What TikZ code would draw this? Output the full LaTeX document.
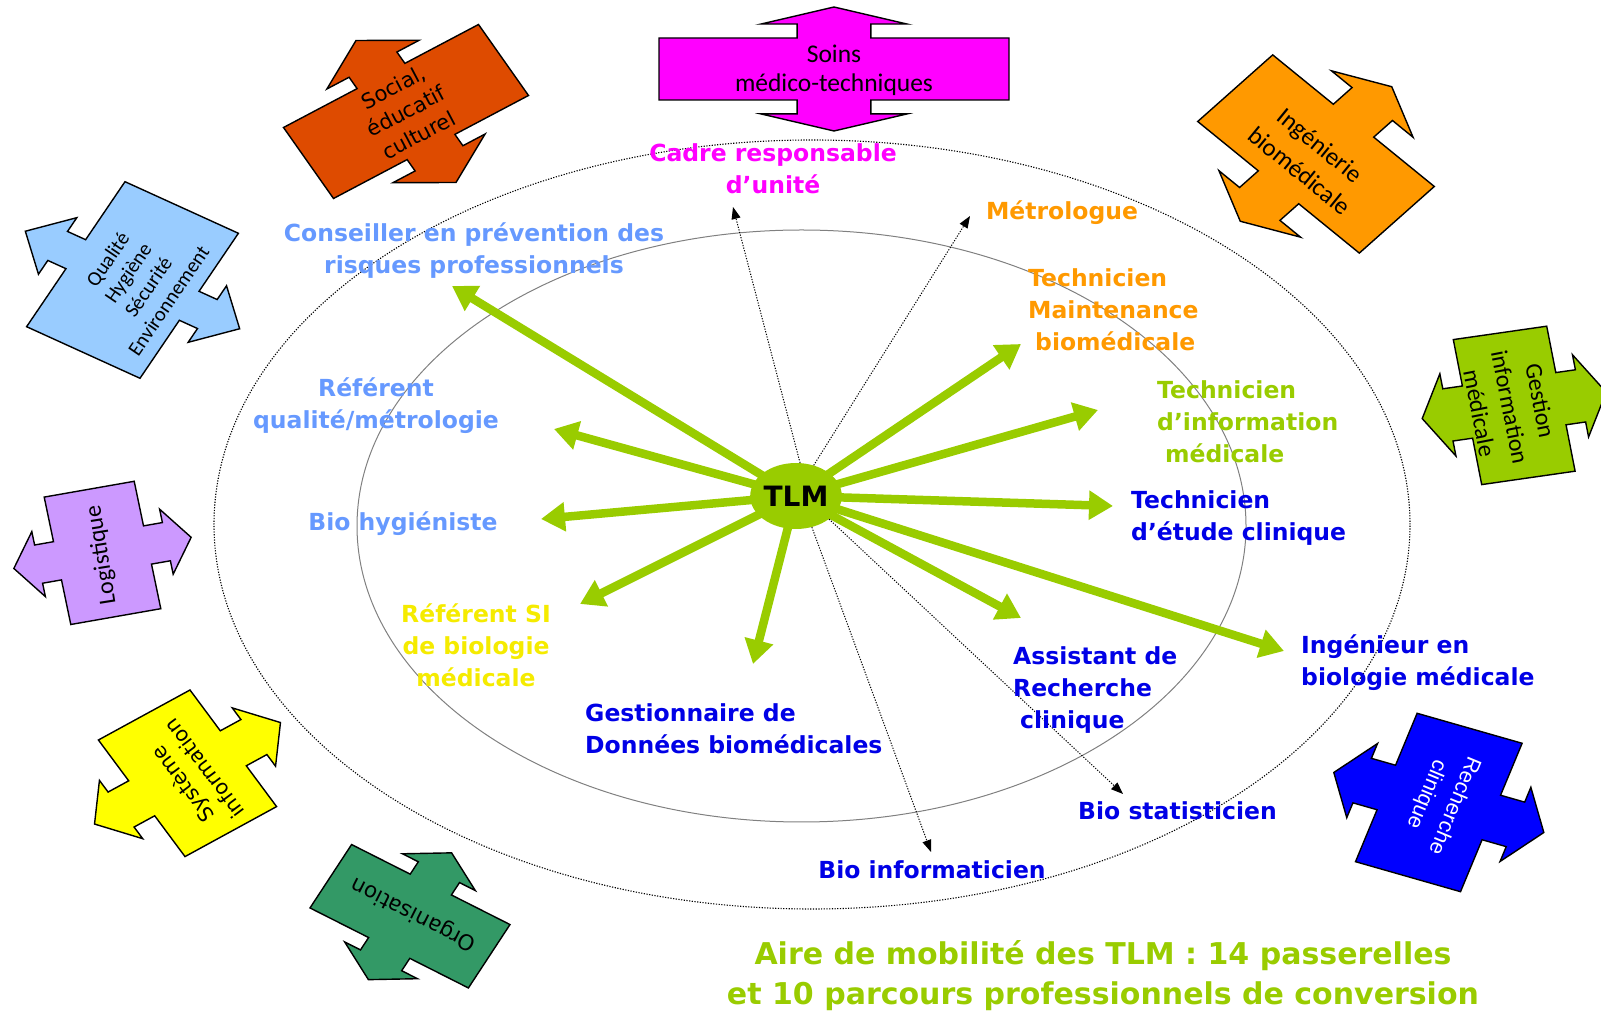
\documentclass[tikz,border=0pt]{standalone}
\usepackage{fontspec}
\setmainfont{DejaVu Sans}
\newfontfamily\calibri{Carlito}
\newfontfamily\arial{Liberation Sans}
\usepackage{tikz}
\usetikzlibrary{arrows.meta, shapes.geometric, positioning}

\definecolor{vertTLM}{RGB}{153,204,0}
\definecolor{bleuclair}{RGB}{102,153,255}
\definecolor{orangeM}{RGB}{255,153,0}
\definecolor{magentaM}{RGB}{255,0,255}
\definecolor{jauneM}{RGB}{245,235,0}
\definecolor{bleuM}{RGB}{0,0,230}
\definecolor{rougeS}{RGB}{222,75,0}
\definecolor{bleuQ}{RGB}{153,204,255}
\definecolor{violetL}{RGB}{204,153,255}
\definecolor{jauneS}{RGB}{255,255,0}
\definecolor{vertO}{RGB}{51,153,102}
\definecolor{bleuR}{RGB}{0,0,255}

\tikzset{
	metier/.style={
		font=\bfseries\fontsize{23.5}{32}\selectfont,
		inner sep=0pt,
		align=center
	},
	passerelle/.style={
		draw=vertTLM,
		line width=8.5pt,
		-{Triangle[length=24pt,width=28pt]}
	},
	parcours/.style={
		draw=black,
		line width=1pt,
		dash pattern=on 1.2pt off 1.5pt,
		-{Triangle[length=12pt,width=9pt]}
	},
	boite/.style={
		draw=black,
		line width=1.4pt,
		line join=miter
	},
	boitetexte/.style={
		inner sep=0pt,
		align=center
	},
	tlm/.style={
		shape=ellipse,
		fill=vertTLM,
		minimum width=90pt,
		minimum height=66pt,
		inner sep=0pt,
		font=\bfseries\fontsize{28}{30}\selectfont
	}
}

% centre, demi-axe U, demi-axe V, couleur, tige, fin tige, tete, pointe
\newcommand{\boite}[8]{%
	\begin{scope}[shift={#1}, x={#2}, y={#3}]
		\draw[boite, fill=#4] (-1,1) -- (-#5,1) -- (-#5,#6) -- (-#7,#6) -- (0,#8) -- (#7,#6) -- (#5,#6) -- (#5,1) -- (1,1)
			-- (1,-1) -- (#5,-1) -- (#5,-#6) -- (#7,-#6) -- (0,-#8) -- (-#7,-#6) -- (-#5,-#6) -- (-#5,-1) -- (-1,-1) -- cycle;
	\end{scope}}

\begin{document}
\begin{tikzpicture}[x=1pt, y=1pt]
	\useasboundingbox (0,0) rectangle (1601,1012);
	
	% aires
	\draw[black, line width=1.1pt, dash pattern=on 1.2pt off 1.5pt] (812,487.5) ellipse [x radius=598, y radius=384.5];
	\draw[gray, line width=1pt] (801.5,486) ellipse [x radius=444.5, y radius=296];
	
	% filieres
	\boite{(834,943)}{(175pt,0pt)}{(0pt,31pt)}{magentaM}{0.211}{1.45}{0.417}{2.0}
	\node[boitetexte, font=\calibri\fontsize{25.5}{29}\selectfont] (soins) at (834,942) {Soins\\médico-techniques};
	
	\boite{(406,900.5)}{(97.5pt,51.5pt)}{(25pt,-35.5pt)}{rougeS}{0.245}{1.32}{0.473}{2.0}
	\node[boitetexte, rotate=27.8, font=\fontsize{21}{27}\selectfont] (social) at (406,901) {Social,\\éducatif\\culturel};
	
	\boite{(1316,858)}{(80.8pt,-65.8pt)}{(37.5pt,33.3pt)}{orangeM}{0.25}{1.5}{0.505}{2.02}
	\node[boitetexte, rotate=-39.2, font=\calibri\fontsize{25}{33}\selectfont] (ingenierie) at (1310,854) {Ingénierie\\biomédicale};
	
	\boite{(132.5,732)}{(49.2pt,72.5pt)}{(56.7pt,-25.8pt)}{bleuQ}{0.2}{1.32}{0.39}{1.89}
	\node[boitetexte, rotate=55.8, font=\calibri\fontsize{20.5}{24.5}\selectfont] (qualite) at (138,732) {Qualité\\Hygiène\\Sécurité\\Environnement};
	
	\boite{(1514.2,606.6)}{(14.2pt,-72.5pt)}{(46.7pt,6.7pt)}{vertTLM}{0.36}{1.42}{0.567}{1.97}
	\node[boitetexte, rotate=-78.9, font=\calibri\fontsize{24}{31}\selectfont] (gestion) at (1510,605) {Gestion\\information\\médicale};
	
	\boite{(102.5,459.1)}{(-13.3pt,63.7pt)}{(45pt,7.9pt)}{violetL}{0.3}{1.42}{0.51}{1.97}
	\node[boitetexte, rotate=99, font=\calibri\fontsize{24}{28}\selectfont] (logistique) at (101.7,457) {Logistique};
	
	\boite{(187.5,238.7)}{(-43.3pt,58.3pt)}{(45.8pt,25pt)}{jauneS}{0.3}{1.45}{0.5}{2.03}
	\node[boitetexte, rotate=126.6, font=\fontsize{20.5}{27}\selectfont] (systeme) at (193,235) {Système\\information};
	
	\boite{(410,95.75)}{(-79.2pt,40pt)}{(20.8pt,31.7pt)}{vertO}{0.26}{1.39}{0.46}{2.0}
	\node[boitetexte, rotate=153.2, font=\fontsize{21.5}{26}\selectfont] (organisation) at (414,98) {Organisation};
	
	\boite{(1438.8,209.5)}{(-30.8pt,-74.2pt)}{(52.5pt,-15pt)}{bleuR}{0.3}{1.46}{0.5}{2.0}
	\node[boitetexte, rotate=-112.5, text=white, font=\arial\fontsize{21.5}{30}\selectfont] (recherche) at (1440,212) {Recherche\\clinique};
	
	% passerelles
	\coordinate (centre) at (796,516);
	\coordinate (t-conseiller) at (452,726);
	\coordinate (t-refqual) at (554,583);
	\coordinate (t-biohyg) at (541,493);
	\coordinate (t-refsi) at (580,408);
	\coordinate (t-gestionnaire) at (753,348);
	\coordinate (t-assistant) at (1021,394);
	\coordinate (t-ingenieur) at (1284,361);
	\coordinate (t-techclin) at (1113,506);
	\coordinate (t-techinfo) at (1098,602);
	\coordinate (t-techmaint) at (1021,668);
	
	\foreach \cible in {t-conseiller,t-refqual,t-biohyg,t-refsi,t-gestionnaire,t-assistant,t-ingenieur,t-techclin,t-techinfo,t-techmaint} {
		\draw[passerelle] (centre) -- (\cible);
	}
	
	\node[tlm] (tlm) at (centre) {TLM};
	
	% parcours de conversion
	\coordinate (t-cadre) at (733,805);
	\coordinate (t-metrologue) at (970,796);
	\coordinate (t-biostat) at (1123,218);
	\coordinate (t-bioinfo) at (931,160);
	
	\draw[parcours] (tlm.83) -- (t-cadre);
	\draw[parcours] (tlm.60) -- (t-metrologue);
	\draw[parcours] (tlm.-35) -- (t-biostat);
	\draw[parcours] (tlm.-63) -- (t-bioinfo);
	
	% metiers
	\node[metier, text=magentaM] (cadre) at (773,843) {Cadre responsable\\d’unité};
	\node[metier, text=orangeM] (metrologue) at (1062,799) {Métrologue};
	\node[metier, text=orangeM, align=left, anchor=west] (techmaint) at (1028,702) {Technicien\\Maintenance\\\hspace*{7pt}biomédicale};
	\node[metier, text=vertTLM, align=left, anchor=west] (techinfo) at (1157,590) {Technicien\\d’information\\\hspace*{8pt}médicale};
	\node[metier, text=bleuM, align=left, anchor=west] (techclin) at (1131,494) {Technicien\\d’étude clinique};
	\node[metier, text=bleuM, align=left, anchor=west] (ingenieur) at (1301,349) {Ingénieur en\\biologie médicale};
	\node[metier, text=bleuM, align=left, anchor=west] (assistant) at (1013,322) {Assistant de\\Recherche\\\hspace*{7pt}clinique};
	\node[metier, text=bleuM, anchor=west] (biostat) at (1078,201) {Bio statisticien};
	\node[metier, text=bleuM] (bioinfo) at (932,142) {Bio informaticien};
	\node[metier, text=bleuM, align=left, anchor=west] (gestionnaire) at (585,283.5) {Gestionnaire de\\Données biomédicales};
	\node[metier, text=jauneM] (refsi) at (476,367) {Référent SI\\de biologie\\médicale};
	\node[metier, text=bleuclair] (biohyg) at (403,488) {Bio hygiéniste};
	\node[metier, text=bleuclair] (refqual) at (376,606) {Référent\\qualité/métrologie};
	\node[metier, text=bleuclair] (conseiller) at (474,761) {Conseiller en prévention des\\risques professionnels};
	
	\node[font=\bfseries\fontsize{30}{40}\selectfont, text=vertTLM, align=center, inner sep=0pt] (aire) at (1103,36.5) {Aire de mobilité des TLM : 14 passerelles\\et 10 parcours professionnels de conversion};
	
\end{tikzpicture}
\end{document}
